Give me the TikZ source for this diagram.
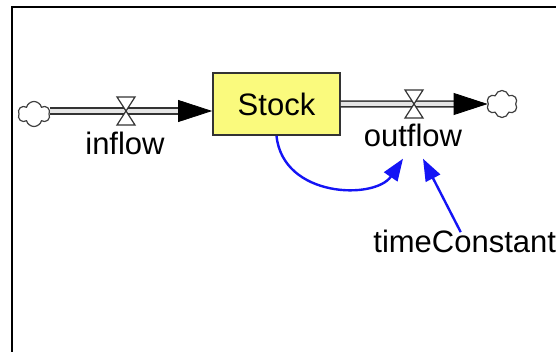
\documentclass[tikz,border=0pt]{standalone}
\usepackage{fontspec}
\setmainfont{Liberation Sans}
\usetikzlibrary{arrows.meta,shapes.symbols}
\definecolor{stockfill}{RGB}{250,250,125}
\definecolor{flowblue}{RGB}{20,20,245}
\begin{document}
\begin{tikzpicture}[x=0.5pt,y=-0.5pt,
  lbl/.style={font=\fontsize{15.5}{18}\selectfont, inner sep=1pt},
  stockbox/.style={draw=black!80, line width=0.9pt, fill=stockfill, minimum width=63.5pt, minimum height=31pt, inner sep=0pt, font=\fontsize{15.5}{18}\selectfont},
  cloudy/.style={cloud, cloud puffs=6, cloud ignores aspect, draw=black!75, line width=0.6pt, fill=white, inner sep=0pt},
  pipe/.style={draw=black!80, line width=0.8pt, double=black!10, double distance=2pt},
  pipetip/.style={draw=black, fill=black, line width=0.4pt, -{Triangle[length=17pt,width=11pt]}},
  link/.style={draw=flowblue, line width=1.2pt, -{Triangle[length=11pt,width=8pt]}},
  valve/.pic={\draw[draw=black!80, fill=white, line width=0.6pt] (-9,-14) -- (9,-14) -- (-9,14) -- (9,14) -- cycle;}
]
\useasboundingbox (0,0) rectangle (556,352);
\fill[white] (0,0) rectangle (556,352);
\draw[line width=1.2pt] (12,352) -- (12,7) -- (556,7);
\node[stockbox] (stock) at (276.5,104) {Stock};
\node[cloudy, minimum width=16pt, minimum height=12.5pt] (srcL) at (34,114) {};
\node[cloudy, minimum width=15.5pt, minimum height=13.5pt] (sinkR) at (502,104) {};
\coordinate (inTip) at ([yshift=-3.5pt]stock.west);
\draw[pipe, shorten >=16pt] (srcL.east |- inTip) -- (inTip);
\draw[pipetip] ([xshift=-17pt]inTip) -- (inTip);
\pic at (126,111) {valve};
\draw[pipe, shorten >=16pt] (stock.east) -- (sinkR.west);
\draw[pipetip] ([xshift=-17pt]sinkR.west) -- (sinkR.west);
\pic at (414,104) {valve};
\node[lbl, anchor=base] (inflow) at (125,155) {inflow};
\node[lbl, anchor=base] (outflow) at (413,147) {outflow};
\node[lbl, anchor=base west] (tc) at (371,252) {timeConstant};
\draw[link] (stock.south) .. controls (283,198) and (375,200) .. ([xshift=-5pt,yshift=-4.5pt]outflow.south);
\draw[link] ([xshift=-2pt,yshift=-2.5pt]tc.north) -- ([xshift=5pt,yshift=-4.5pt]outflow.south);
\end{tikzpicture}
\end{document}
